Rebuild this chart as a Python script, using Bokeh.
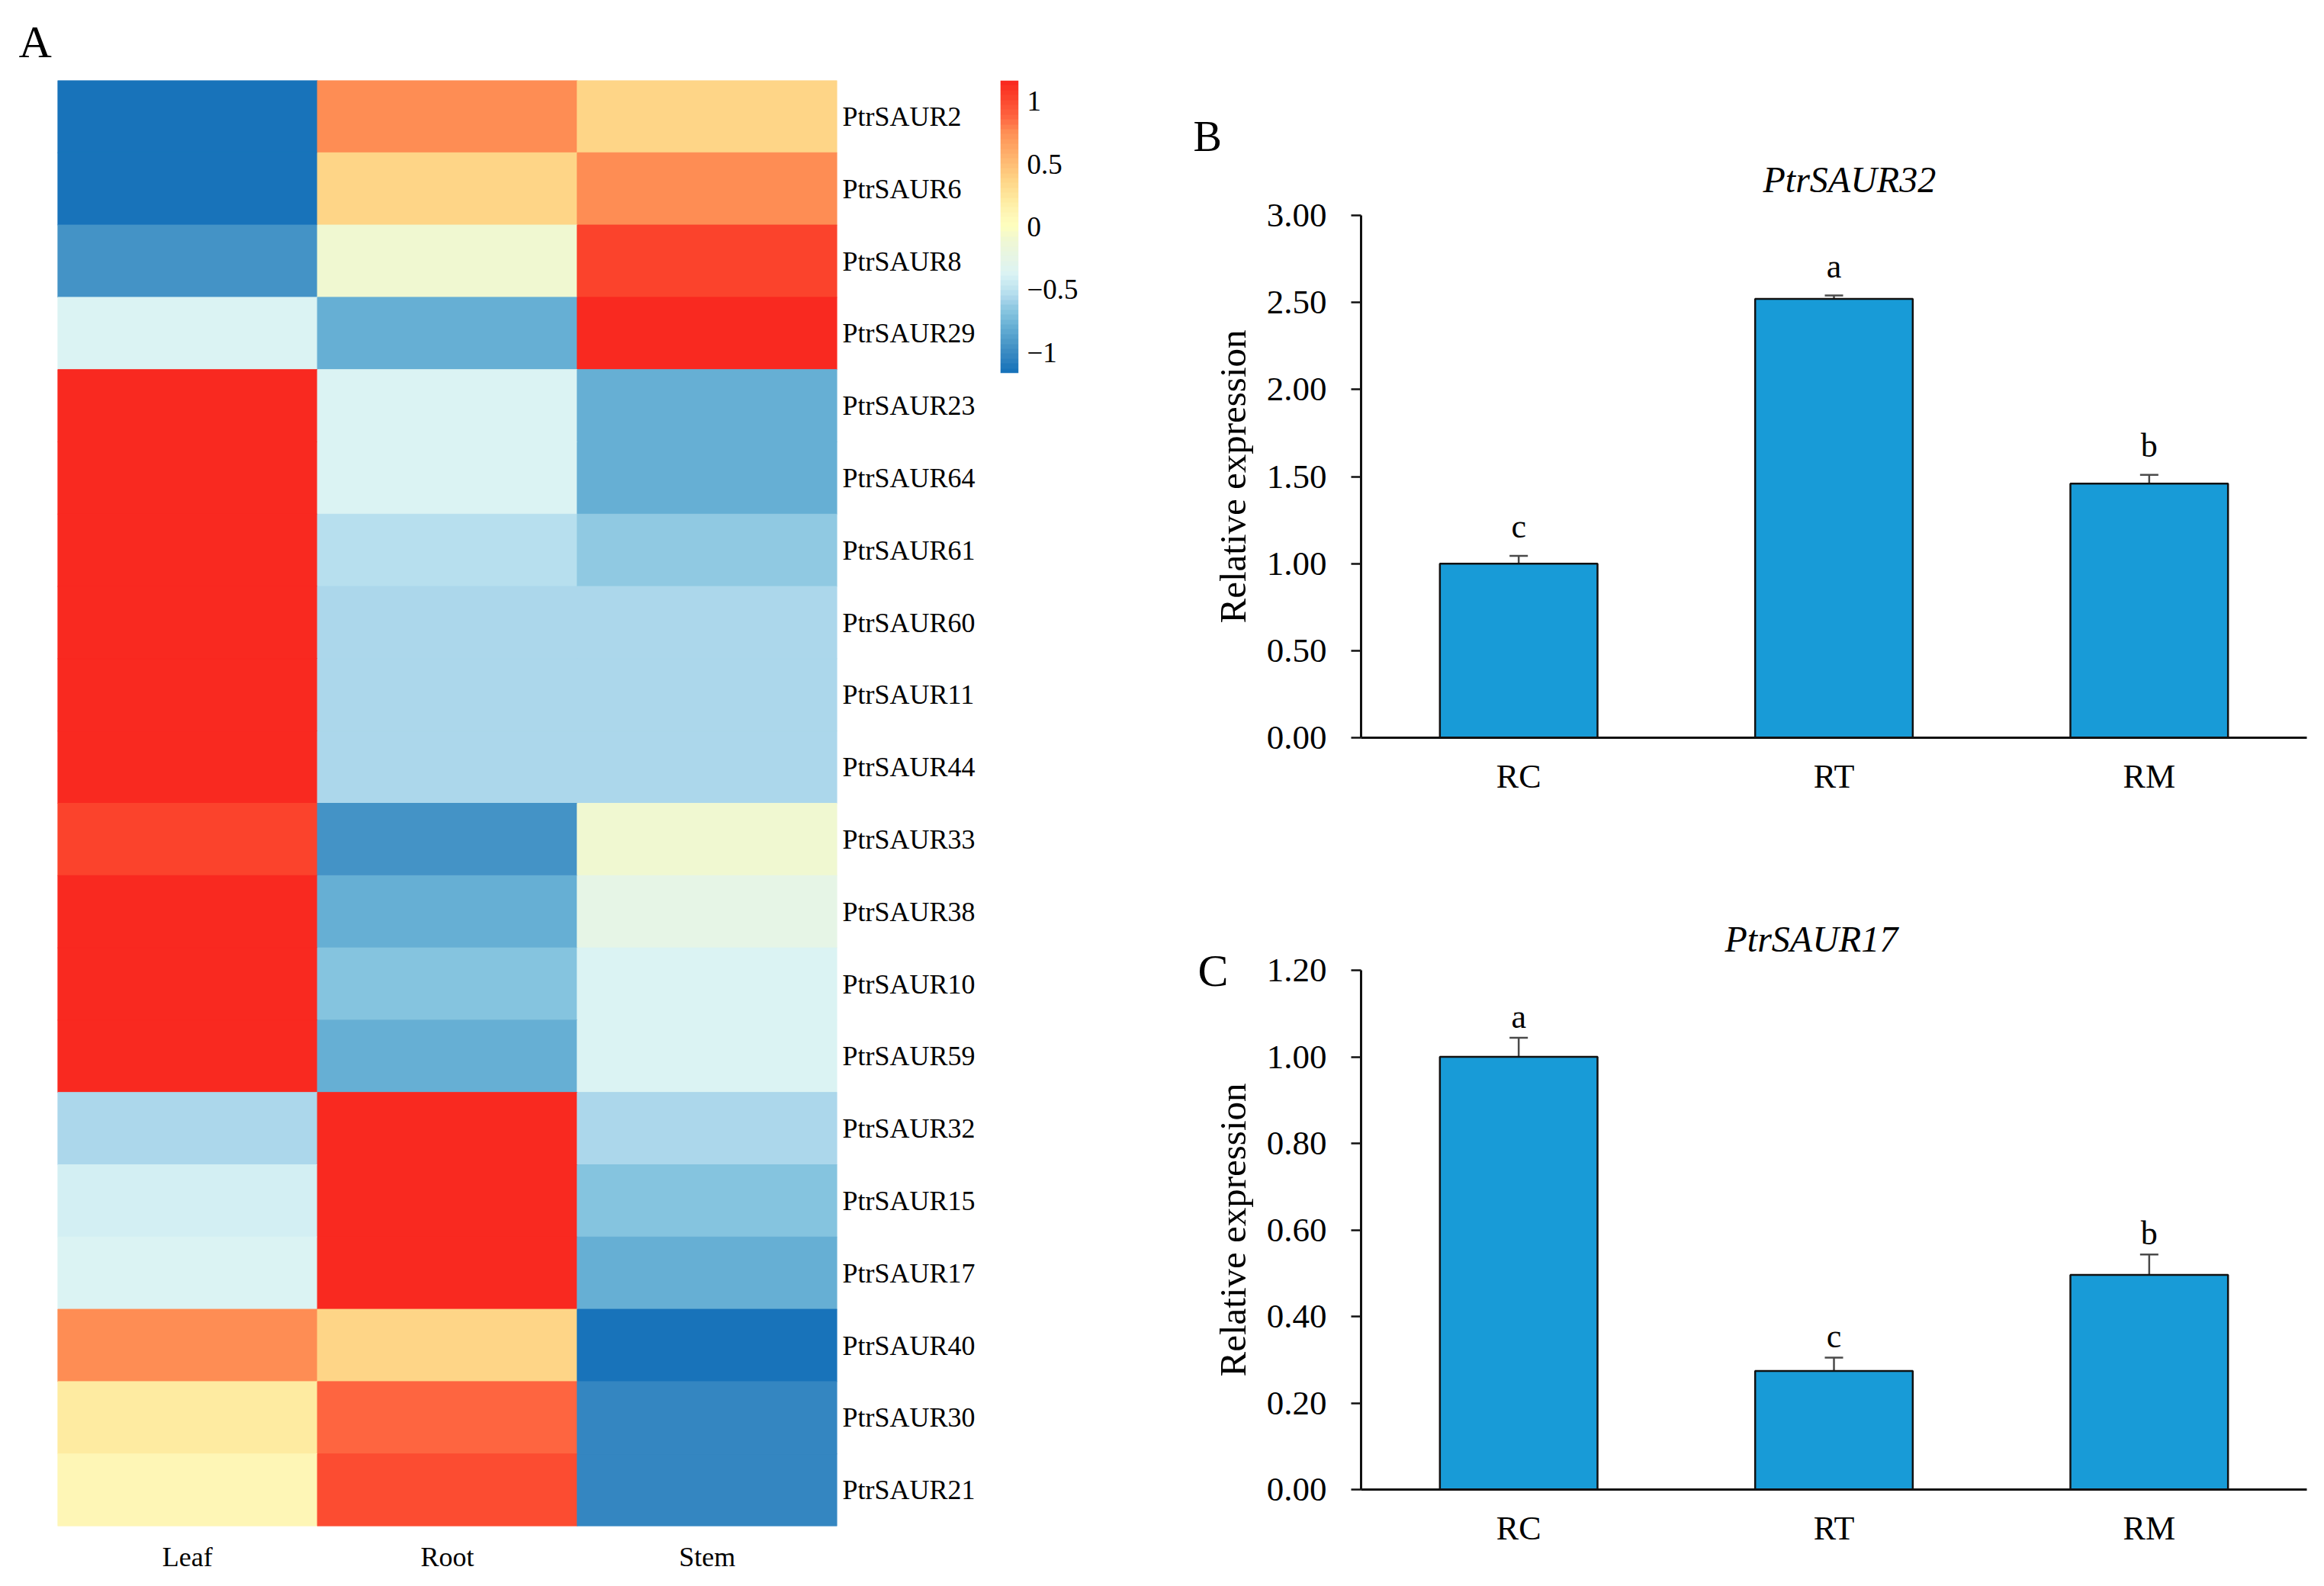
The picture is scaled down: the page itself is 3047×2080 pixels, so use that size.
import numpy as np
from bokeh.plotting import figure
from bokeh.models import (ColumnDataSource, LinearColorMapper, FactorRange, Range1d, Title,
                          LinearAxis, Whisker, TeeHead, FixedTicker, NumeralTickFormatter)
from bokeh.layouts import row, column
from bokeh.embed import file_html
from bokeh.resources import INLINE
from bokeh.core.properties import value
from bokeh.transform import transform

FONT = "Liberation Serif"

# ---------------- data ----------------
tissues = ["Leaf", "Root", "Stem"]
genes = ["PtrSAUR2", "PtrSAUR6", "PtrSAUR8", "PtrSAUR29", "PtrSAUR23", "PtrSAUR64",
         "PtrSAUR61", "PtrSAUR60", "PtrSAUR11", "PtrSAUR44", "PtrSAUR33", "PtrSAUR38",
         "PtrSAUR10", "PtrSAUR59", "PtrSAUR32", "PtrSAUR15", "PtrSAUR17", "PtrSAUR40",
         "PtrSAUR30", "PtrSAUR21"]
leaf = [-1.13, -1.13, -0.95, -0.38, 1.15, 1.15, 1.15, 1.155, 1.155, 1.155,
        1.02, 1.15, 1.15, 1.15, -0.577, -0.40, -0.38, 0.75, 0.20, 0.08]
root = [0.75, 0.38, -0.10, -0.78, -0.38, -0.38, -0.52, -0.577, -0.577, -0.577,
        -0.95, -0.78, -0.70, -0.78, 1.155, 1.15, 1.15, 0.38, 0.87, 0.98]
stem = [0.38, 0.75, 1.05, 1.15, -0.78, -0.78, -0.63, -0.577, -0.577, -0.577,
        -0.10, -0.25, -0.38, -0.38, -0.577, -0.70, -0.78, -1.13, -1.05, -1.05]
cbar_ticks = [-1, -0.5, 0, 0.5, 1]
cbar_labels = ["\u22121", "\u22120.5", "0", "0.5", "1"]

groups = ["RC", "RT", "RM"]
saur32_mean = [1.00, 2.52, 1.46]
saur32_err = [0.044, 0.02, 0.05]
saur32_sig = ["c", "a", "b"]
saur32_ticks = [0.0, 0.5, 1.0, 1.5, 2.0, 2.5, 3.0]
saur17_mean = [1.00, 0.274, 0.496]
saur17_err = [0.044, 0.031, 0.047]
saur17_sig = ["a", "c", "b"]
saur17_ticks = [0.0, 0.2, 0.4, 0.6, 0.8, 1.0, 1.2]

# ---------------- colour map ----------------
ZLIM = 1.167
anchors = [(-1.167, "#1670b8"), (-1.13, "#1a75bb"), (-1.05, "#3083c0"), (-0.95, "#4593c6"),
           (-0.78, "#6ab2d6"), (-0.70, "#80c1dd"), (-0.63, "#93cbe3"), (-0.577, "#a8d5ea"),
           (-0.52, "#b9e0ee"), (-0.38, "#daf3f4"), (-0.25, "#e6f5e6"), (-0.10, "#f0f8d2"),
           (0.0, "#fefebe"), (0.08, "#fef8b9"), (0.20, "#feeda3"), (0.38, "#fed385"),
           (0.75, "#fe9055"), (0.87, "#fe6641"), (1.0, "#fc4a30"), (1.10, "#fa3424"),
           (1.167, "#f8241e")]


def _rgb(h):
    return [int(h[i:i + 2], 16) for i in (1, 3, 5)]


def make_palette(n):
    xs = [a[0] for a in anchors]
    cs = np.array([_rgb(a[1]) for a in anchors], dtype=float)
    pos = np.linspace(-ZLIM, ZLIM, n + 1)
    mids = (pos[:-1] + pos[1:]) / 2
    out = []
    for v in mids:
        r = np.interp(v, xs, cs[:, 0]); g = np.interp(v, xs, cs[:, 1]); b = np.interp(v, xs, cs[:, 2])
        out.append("#%02x%02x%02x" % (int(round(r)), int(round(g)), int(round(b))))
    return out


palette = make_palette(60)
mapper = LinearColorMapper(palette=palette, low=-ZLIM, high=ZLIM)

# ---------------- heatmap ----------------
xs, ys, zs = [], [], []
for i, g in enumerate(genes):
    for t, vals in zip(tissues, (leaf, root, stem)):
        xs.append(t); ys.append(g); zs.append(vals[i])
hsrc = ColumnDataSource(dict(tissue=xs, gene=ys, z=zs))

hm = figure(frame_width=1022, frame_height=1896, x_range=FactorRange(factors=tissues),
            y_range=FactorRange(factors=genes[::-1]), y_axis_location="right",
            min_border_left=75, min_border_right=202, min_border_top=105, min_border_bottom=70,
            output_backend="svg", toolbar_location=None)
hm.rect(x="tissue", y="gene", width=1, height=1, source=hsrc,
        fill_color=transform("z", mapper), line_color=transform("z", mapper), line_width=1)
hm.outline_line_color = None
hm.grid.visible = False
for ax in (hm.xaxis[0], hm.yaxis[0]):
    ax.axis_line_color = None
    ax.major_tick_line_color = None
    ax.minor_tick_line_color = None
    ax.major_label_text_font = FONT
    ax.major_label_text_font_size = "36px"
    ax.major_label_text_color = "black"
hm.yaxis.major_label_standoff = 1
hm.xaxis.major_label_standoff = 14
hm.title.text = "A"
hm.title.align = "left"
hm.title.offset = -51
hm.title.standoff = 35
hm.title.text_font = FONT
hm.title.text_font_style = "normal"
hm.title.text_font_size = "60px"
hm.title.text_color = "black"

# ---------------- colour bar ----------------
cb = figure(frame_width=24, frame_height=384, x_range=Range1d(0, 1), y_range=Range1d(-ZLIM, ZLIM),
            x_axis_location=None, y_axis_location="right",
            min_border_left=12, min_border_right=164, min_border_top=105, min_border_bottom=10,
            output_backend="svg", toolbar_location=None)
grad = np.linspace(-ZLIM, ZLIM, 240).reshape(240, 1)
cb.image(image=[grad], x=0, y=-ZLIM, dw=1, dh=2 * ZLIM, color_mapper=mapper)
cb.grid.visible = False
cb.outline_line_color = None
cy = cb.yaxis[0]
cy.ticker = FixedTicker(ticks=cbar_ticks)
cy.major_label_overrides = {t: l for t, l in zip(cbar_ticks, cbar_labels)}
cy.axis_line_color = None
cy.major_tick_line_color = None
cy.minor_tick_line_color = None
cy.major_label_text_font = FONT
cy.major_label_text_font_size = "37px"
cy.major_label_text_color = "black"
cy.major_label_standoff = 5


# ---------------- bar panels ----------------
def bar_panel(title, means, errs, sigs, ticks, height, top, frame_h, sig_off, title_off, title_sd):
    p = figure(width=1539, height=height, x_range=FactorRange(factors=groups),
               y_range=Range1d(0, ticks[-1]), min_border_left=285, min_border_right=14,
               min_border_top=top, min_border_bottom=height - top - frame_h,
               output_backend="svg", toolbar_location=None)
    src = ColumnDataSource(dict(g=groups, m=means,
                                lo=[m - e for m, e in zip(means, errs)],
                                hi=[m + e for m, e in zip(means, errs)], sig=sigs))
    p.vbar(x="g", top="m", width=0.5, source=src, fill_color="#189bd7",
           line_color="#111111", line_width=2.5)
    ec = "#4a4a4a"
    p.add_layout(Whisker(source=src, base="g", upper="hi", lower="lo", line_color=ec, line_width=2.5,
                         upper_head=TeeHead(size=24, line_color=ec, line_width=2.5),
                         lower_head=TeeHead(size=24, line_color=ec, line_width=2.5)))
    p.text(x="g", y="hi", text="sig", source=src, text_font=value(FONT), text_font_size="44px",
           text_align="center", text_baseline="bottom", y_offset=sig_off, text_color="black")
    p.grid.visible = False
    p.outline_line_color = None
    p.add_layout(Title(text=title, align="left", offset=title_off, standoff=title_sd, text_font=FONT,
                       text_font_style="italic", text_font_size="48px", text_color="black"), "above")
    ya = p.yaxis[0]
    ya.ticker = FixedTicker(ticks=ticks)
    ya.formatter = NumeralTickFormatter(format="0.00")
    ya.major_tick_in = 0
    ya.major_tick_out = 13
    ya.minor_tick_line_color = None
    ya.axis_line_width = 3
    ya.major_tick_line_width = 2.5
    ya.axis_line_color = "#111111"
    ya.major_tick_line_color = "#111111"
    ya.major_label_text_font = FONT
    ya.major_label_text_font_size = "45px"
    ya.major_label_text_color = "black"
    ya.major_label_standoff = 32
    ya.axis_label = "Relative expression"
    ya.axis_label_text_font = FONT
    ya.axis_label_text_font_style = "normal"
    ya.axis_label_text_font_size = "49px"
    ya.axis_label_text_color = "black"
    ya.axis_label_standoff = 14
    xa = p.xaxis[0]
    xa.major_tick_line_color = None
    xa.minor_tick_line_color = None
    xa.axis_line_width = 3
    xa.axis_line_color = "#111111"
    xa.major_label_text_font = FONT
    xa.major_label_text_font_size = "44px"
    xa.major_label_text_color = "black"
    xa.major_label_standoff = 20
    return p


pB = bar_panel("PtrSAUR32", saur32_mean, saur32_err, saur32_sig, saur32_ticks,
               1130, 282, 685, -14, 527, 42)
pB.title.text = "B"
pB.title.align = "left"
pB.title.offset = -220
pB.title.standoff = -48
pB.title.text_font = FONT
pB.title.text_font_style = "normal"
pB.title.text_font_size = "56px"
pB.title.text_color = "black"

pC = bar_panel("PtrSAUR17", saur17_mean, saur17_err, saur17_sig, saur17_ticks,
               941, 142, 681, -3, 477, 30)
letter_axis = LinearAxis(ticker=FixedTicker(ticks=[saur17_ticks[-1]]),
                         major_label_overrides={saur17_ticks[-1]: "C"},
                         axis_line_color=None, major_tick_line_color=None,
                         minor_tick_line_color=None, major_label_text_font=FONT,
                         major_label_text_font_size="60px", major_label_text_color="black",
                         major_label_text_baseline="alphabetic", major_label_standoff=-31)
pC.add_layout(letter_axis, "left")

layout = row(hm, cb, column(pB, pC))
open("out.html", "w").write(file_html(layout, INLINE))
